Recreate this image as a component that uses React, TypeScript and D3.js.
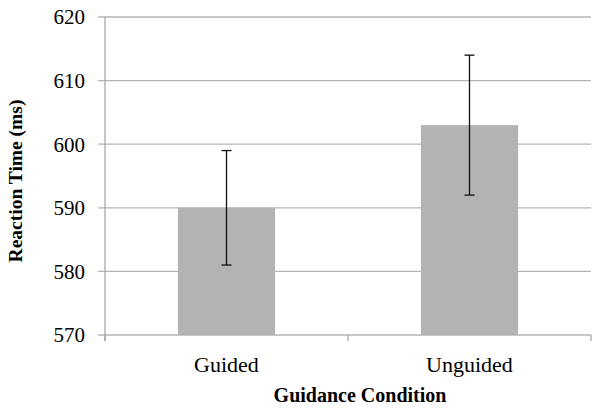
import React from "react";
import { scaleBand, scaleLinear } from "d3";

// chart values
const conditions = ["Guided", "Unguided"];
const meanRT = [590, 603];
const errLow = [581, 592];
const errHigh = [599, 614];
const yTicks = [570, 580, 590, 600, 610, 620];

const W = 600,
  H = 410;
const margin = { top: 17, right: 9, bottom: 75, left: 105 };
const font = "'Liberation Serif', 'Times New Roman', serif";

const App = () => {
  const x = scaleBand()
    .domain(conditions)
    .range([margin.left, W - margin.right])
    .padding(0);
  const y = scaleLinear()
    .domain([570, 620])
    .range([H - margin.bottom, margin.top]);

  const bw = x.bandwidth() * 0.4;
  const y0 = y(570);
  const bounds = [margin.left, ...conditions.map((c) => (x(c) as number) + x.bandwidth())];

  return (
    <svg
      width={W}
      height={H}
      style={{ position: "absolute", left: 0, top: 0, background: "#fff" }}
    >
      {/* gridlines + y ticks */}
      {yTicks.map((t) => (
        <g key={t}>
          <line
            x1={margin.left - 7}
            x2={W - margin.right}
            y1={y(t)}
            y2={y(t)}
            stroke="#b4b4b4"
            strokeWidth={1.3}
          />
          <text
            x={margin.left - 20}
            y={y(t)}
            dy="0.35em"
            textAnchor="end"
            fontFamily={font}
            fontSize={21}
            fill="#000"
          >
            {t}
          </text>
        </g>
      ))}
      {/* y axis */}
      <line x1={margin.left} x2={margin.left} y1={margin.top} y2={y0 + 6} stroke="#a8a8a8" strokeWidth={1.3} />
      {/* category ticks */}
      {bounds.map((b, i) => (
        <line key={i} x1={b} x2={b} y1={y0} y2={y0 + 6} stroke="#a8a8a8" strokeWidth={1.3} />
      ))}
      {/* bars */}
      {conditions.map((c, i) => {
        const cx = (x(c) as number) + x.bandwidth() / 2;
        return (
          <g key={c}>
            <rect x={cx - bw / 2} y={y(meanRT[i])} width={bw} height={y0 - y(meanRT[i])} fill="#b3b3b3" />
            <line x1={cx} x2={cx} y1={y(errHigh[i])} y2={y(errLow[i])} stroke="#111" strokeWidth={1.3} />
            <line x1={cx - 5} x2={cx + 5} y1={y(errHigh[i])} y2={y(errHigh[i])} stroke="#111" strokeWidth={1.3} />
            <line x1={cx - 5} x2={cx + 5} y1={y(errLow[i])} y2={y(errLow[i])} stroke="#111" strokeWidth={1.3} />
            <text x={cx} y={372} textAnchor="middle" fontFamily={font} fontSize={22} fill="#000">
              {c}
            </text>
          </g>
        );
      })}
      {/* axis titles */}
      <text
        x={(margin.left + W - margin.right) / 2 + 12}
        y={402}
        textAnchor="middle"
        fontFamily={font}
        fontSize={20}
        fontWeight="bold"
      >
        Guidance Condition
      </text>
      <text
        transform={`translate(22, ${(margin.top + y0) / 2 + 5}) rotate(-90)`}
        textAnchor="middle"
        fontFamily={font}
        fontSize={19.5}
        fontWeight="bold"
      >
        Reaction Time (ms)
      </text>
    </svg>
  );
};

export default App;
